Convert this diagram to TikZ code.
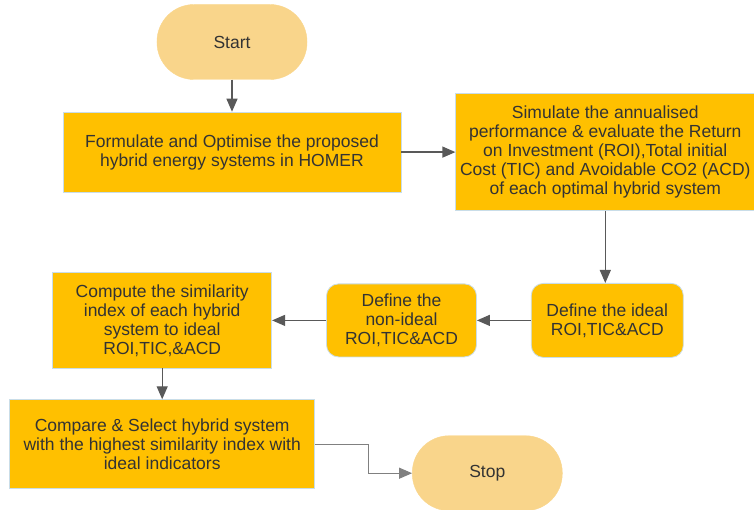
\documentclass[tikz,border=0pt]{standalone}
\usepackage{fontspec}
\setmainfont{Liberation Sans}
\usepackage{xcolor}
\definecolor{amber}{HTML}{FFC000}
\definecolor{pale-amber}{HTML}{F9D58B}
\definecolor{pale-blue}{HTML}{C9DDE8}
\definecolor{ink}{HTML}{333333}
\definecolor{wire}{HTML}{595959}
\usepackage{tikz}
\usetikzlibrary{positioning}
\usetikzlibrary{arrows.meta}
\tikzset{box/.style = {draw=pale-blue, line width=0.8pt, fill=amber, inner sep=1pt, align=center, text centered, text=ink}}
\tikzset{roundbox/.style = {box, rounded corners=12pt}}
\tikzset{terminal/.style = {draw=pale-amber, fill=pale-amber, rounded corners=37pt, minimum width=150pt, minimum height=75pt, align=center, text=ink}}
\tikzset{arr/.style = {draw=wire, line width=1.2pt, -{Triangle[length=13pt, width=11pt]}}}

\begin{document}
\begin{tikzpicture}[auto,
  font=\fontsize{17.5}{19}\selectfont
]

\node[terminal] (n0) {Start};
\useasboundingbox (n0.center) ++(-232pt, 42pt) rectangle ++(754pt, -510pt);
\node[box, below=32pt of n0, minimum width=338pt, minimum height=80pt] (n1) {
  Formulate and Optimise the proposed\\
  hybrid energy systems in HOMER
};
\node[box, right=54pt of n1, minimum width=299pt, minimum height=117pt] (n2) {
  Simulate the annualised\\
  performance \& evaluate the Return\\
  on Investment (ROI),Total initial\\
  Cost (TIC) and Avoidable CO2 (ACD)\\
  of each optimal hybrid system
};
\node[roundbox, below=72pt of n2, xshift=2pt, minimum width=152pt, minimum height=74pt] (n3) {
  Define the ideal\\
  ROI,TIC\&ACD
};
\node[roundbox, left=54pt of n3, minimum width=150pt, minimum height=73pt] (n4) {
  Define the\\
  non-ideal\\
  ROI,TIC\&ACD
};
\node[box, left=54pt of n4, minimum width=219pt, minimum height=95pt] (n5) {
  Compute the similarity\\
  index of each hybrid\\
  system to ideal\\
  ROI,TIC,\&ACD
};
\node[box, below=31pt of n5, minimum width=305pt, minimum height=89pt] (n6) {
  Compare \& Select hybrid system\\
  with the highest similarity index with\\
  ideal indicators
};
\node[terminal, right=97pt of n6, yshift=-29pt] (n7) {Stop};

\draw[arr]  (n0) -- (n1);
\draw[arr]  (n1) -- (n2);
\draw[arr]  (n2) -- (n2 |- n3.north);
\draw[arr]  (n3) -- (n4);
\draw[arr]  (n4) -- (n5);
\draw[arr]  (n5) -- (n6);
\draw[arr, draw=gray, line width=1pt]  (n6.east) -- ++ (53pt, 0) |- (n7.west);

\end{tikzpicture}
\end{document}
